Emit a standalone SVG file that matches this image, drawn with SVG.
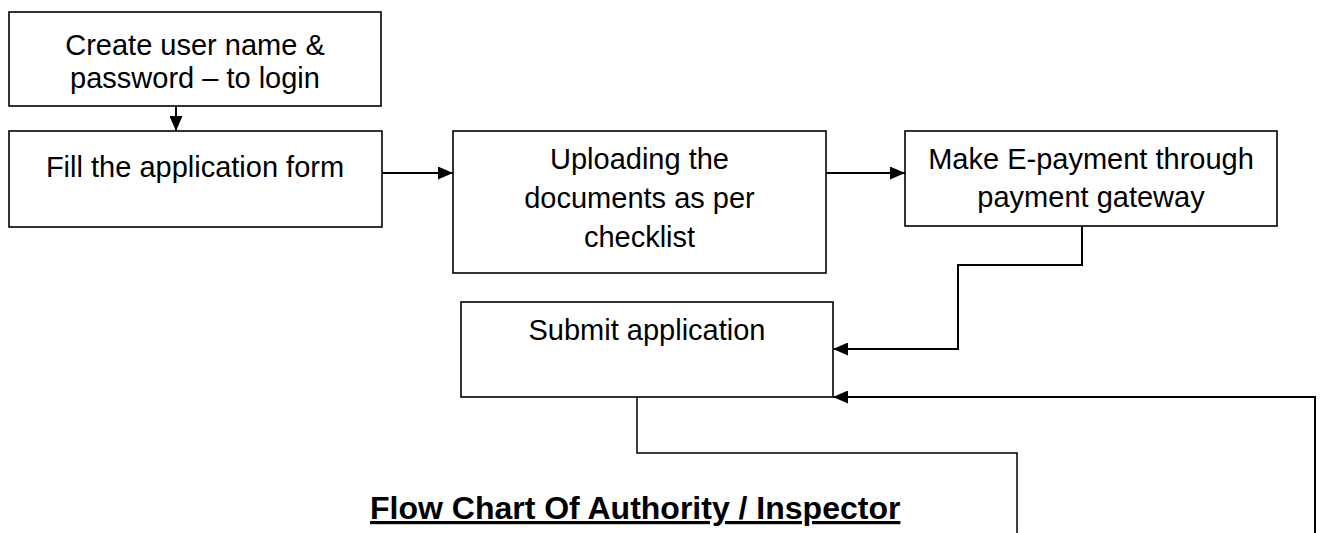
<svg xmlns="http://www.w3.org/2000/svg" width="1332" height="533" viewBox="0 0 1332 533">
<style>
.box{fill:#fff;stroke:#000;stroke-width:1.6}
.t{font-family:"Liberation Sans",Arial,sans-serif;font-size:29px;fill:#000;text-anchor:middle}
.c{fill:none;stroke:#000;stroke-width:2}
.c2{fill:none;stroke:#000;stroke-width:1.5}
.title{font-family:"Liberation Sans",Arial,sans-serif;font-size:32px;font-weight:bold;fill:#000;text-decoration:underline}
</style>
<defs>
<marker id="ah" markerUnits="userSpaceOnUse" markerWidth="16" markerHeight="13" refX="15" refY="6.5" orient="auto">
<path d="M0,0 L15,6.5 L0,13 z" fill="#000"/>
</marker>
</defs>
<rect width="1332" height="533" fill="#fff"/>
<g id="n1">
<rect class="box" x="9" y="12" width="372" height="94"/>
<text class="t" x="195" y="55">Create user name &amp;</text>
<text class="t" x="195" y="88">password – to login</text>
</g>
<g id="n2">
<rect class="box" x="9" y="131" width="373" height="96"/>
<text class="t" x="195" y="177">Fill the application form</text>
</g>
<g id="n3">
<rect class="box" x="453" y="131" width="373" height="142"/>
<text class="t" x="639.5" y="169">Uploading the</text>
<text class="t" x="639.5" y="208">documents as per</text>
<text class="t" x="639.5" y="247">checklist</text>
</g>
<g id="n4">
<rect class="box" x="905" y="131" width="372" height="95"/>
<text class="t" x="1091" y="169">Make E-payment through</text>
<text class="t" x="1091" y="207">payment gateway</text>
</g>
<g id="n5">
<rect class="box" x="461" y="302" width="372" height="95"/>
<text class="t" x="647" y="340">Submit application</text>
</g>
<g id="connectors">
<path class="c" d="M176,106 L176,131" marker-end="url(#ah)"/>
<path class="c" d="M382,173 L453,173" marker-end="url(#ah)"/>
<path class="c" d="M826,173 L905,173" marker-end="url(#ah)"/>
<path class="c" d="M1082,226 L1082,265 L958,265 L958,349 L833,349" marker-end="url(#ah)"/>
<path class="c" d="M1315,533 L1315,397 L833,397" marker-end="url(#ah)"/>
<path class="c2" d="M637,397 L637,453 L1017,453 L1017,533"/>
</g>
<text class="title" x="370" y="519">Flow Chart Of Authority / Inspector</text>
</svg>
